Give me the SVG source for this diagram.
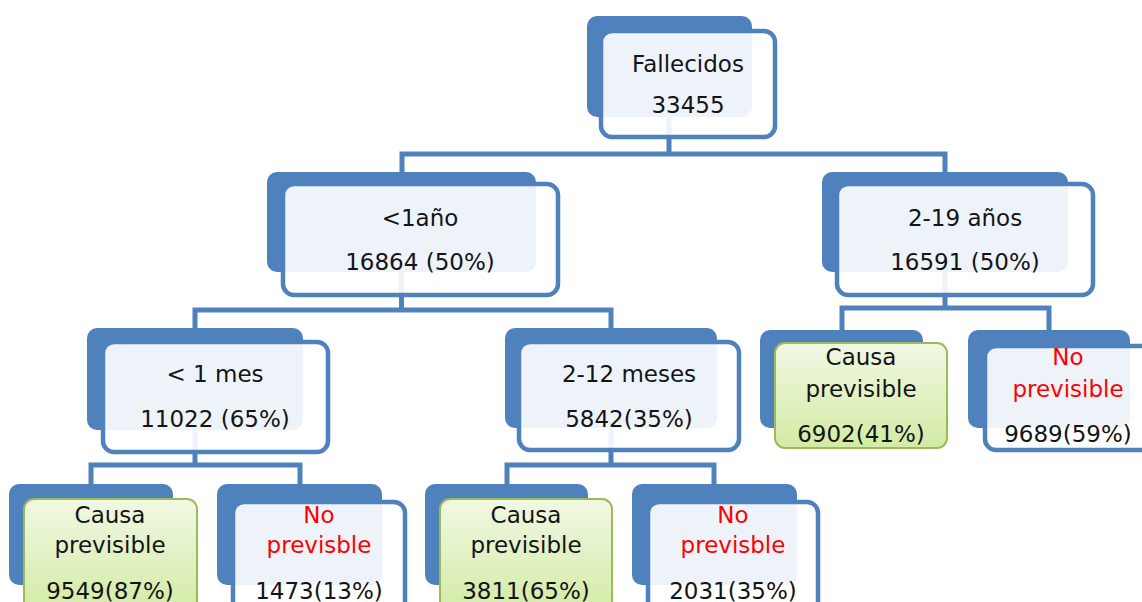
<svg xmlns="http://www.w3.org/2000/svg" width="1142" height="602" viewBox="0 0 1142 602">
<defs>
<linearGradient id="g" x1="0" y1="0" x2="0" y2="1">
<stop offset="0" stop-color="#F1F8E4"/>
<stop offset="1" stop-color="#D2EBA4"/>
</linearGradient>
</defs>
<style>
.back{fill:#4F81BD}
.front{fill:#FFFFFF;fill-opacity:0.9;stroke:#4F81BD;stroke-width:4.5}
.green{fill:url(#g);stroke:#9BBB59;stroke-width:2}
.conn{fill:none;stroke:#4F81BD;stroke-width:5;stroke-linejoin:miter}
text{font-family:"DejaVu Sans","Liberation Sans",sans-serif;text-anchor:middle;fill:#141414}
.t1{font-size:23px}
.t2{font-size:23px}
.red{fill:#FF0000}
</style>
<rect width="1142" height="602" fill="#FFFFFF"/>
<g id="connectors">
<path class="conn" d="M669,117 V154 M402,172 V154 H945 V172"/>
<path class="conn" d="M401.5,272 V310 M195,328 V310 H611 V328"/>
<path class="conn" d="M945,272 V308 M842,330 V308 H1049 V330"/>
<path class="conn" d="M195,430 V465 M91,484 V465 H300 V484"/>
<path class="conn" d="M611,428 V465 M507,484 V465 H714 V484"/>
</g>
<g id="n-fallecidos">
<rect class="back" x="587" y="16" width="165" height="101" rx="10"/>
<rect class="front" x="601" y="31" width="174" height="106" rx="11"/>
<text class="t1" x="688" y="72">Fallecidos</text>
<text class="t1" x="688" y="113">33455</text>
</g>
<g id="n-menos1ano">
<rect class="back" x="267" y="172" width="269" height="100" rx="10"/>
<rect class="front" x="283" y="184" width="275" height="111" rx="11"/>
<text class="t1" x="420" y="226">&lt;1año</text>
<text class="t1" x="420" y="270">16864 (50%)</text>
</g>
<g id="n-2-19">
<rect class="back" x="822" y="172" width="246" height="100" rx="10"/>
<rect class="front" x="837" y="184" width="256" height="111" rx="11"/>
<text class="t1" x="965" y="226">2-19 años</text>
<text class="t1" x="965" y="270">16591 (50%)</text>
</g>
<g id="n-menos1mes">
<rect class="back" x="87" y="328" width="216" height="102" rx="10"/>
<rect class="front" x="103" y="342" width="225" height="110" rx="11"/>
<text class="t1" x="215" y="382">&lt; 1 mes</text>
<text class="t1" x="215" y="427">11022 (65%)</text>
</g>
<g id="n-2-12">
<rect class="back" x="505" y="328" width="212" height="100" rx="10"/>
<rect class="front" x="519" y="342" width="220" height="108" rx="11"/>
<text class="t1" x="629" y="382">2-12 meses</text>
<text class="t1" x="629" y="427">5842(35%)</text>
</g>
<g id="n-causa-219">
<rect class="back" x="760" y="330" width="163" height="98" rx="10"/>
<rect class="green" x="775" y="343" width="172" height="105" rx="10"/>
<text class="t2" x="861" y="365">Causa</text>
<text class="t2" x="861" y="397">previsible</text>
<text class="t2" x="861" y="442">6902(41%)</text>
</g>
<g id="n-no-219">
<rect class="back" x="968" y="330" width="162" height="98" rx="10"/>
<rect class="front" x="985" y="346" width="168" height="104" rx="11"/>
<text class="t2 red" x="1068" y="365">No</text>
<text class="t2 red" x="1068" y="397">previsible</text>
<text class="t2" x="1068" y="442">9689(59%)</text>
</g>
<g id="n-causa-mes">
<rect class="back" x="9" y="484" width="164" height="101" rx="10"/>
<rect class="green" x="24" y="499" width="173" height="115" rx="10"/>
<text class="t2" x="110" y="523">Causa</text>
<text class="t2" x="110" y="553">previsible</text>
<text class="t2" x="110" y="599">9549(87%)</text>
</g>
<g id="n-no-mes">
<rect class="back" x="217" y="484" width="165" height="101" rx="10"/>
<rect class="front" x="233" y="502" width="172" height="115" rx="11"/>
<text class="t2 red" x="319" y="523">No</text>
<text class="t2 red" x="319" y="553">previsble</text>
<text class="t2" x="319" y="599">1473(13%)</text>
</g>
<g id="n-causa-meses">
<rect class="back" x="425" y="484" width="163" height="101" rx="10"/>
<rect class="green" x="440" y="499" width="172" height="115" rx="10"/>
<text class="t2" x="526" y="523">Causa</text>
<text class="t2" x="526" y="553">previsible</text>
<text class="t2" x="526" y="599">3811(65%)</text>
</g>
<g id="n-no-meses">
<rect class="back" x="632" y="484" width="165" height="101" rx="10"/>
<rect class="front" x="648" y="502" width="170" height="115" rx="11"/>
<text class="t2 red" x="733" y="523">No</text>
<text class="t2 red" x="733" y="553">previsble</text>
<text class="t2" x="733" y="599">2031(35%)</text>
</g>
</svg>
